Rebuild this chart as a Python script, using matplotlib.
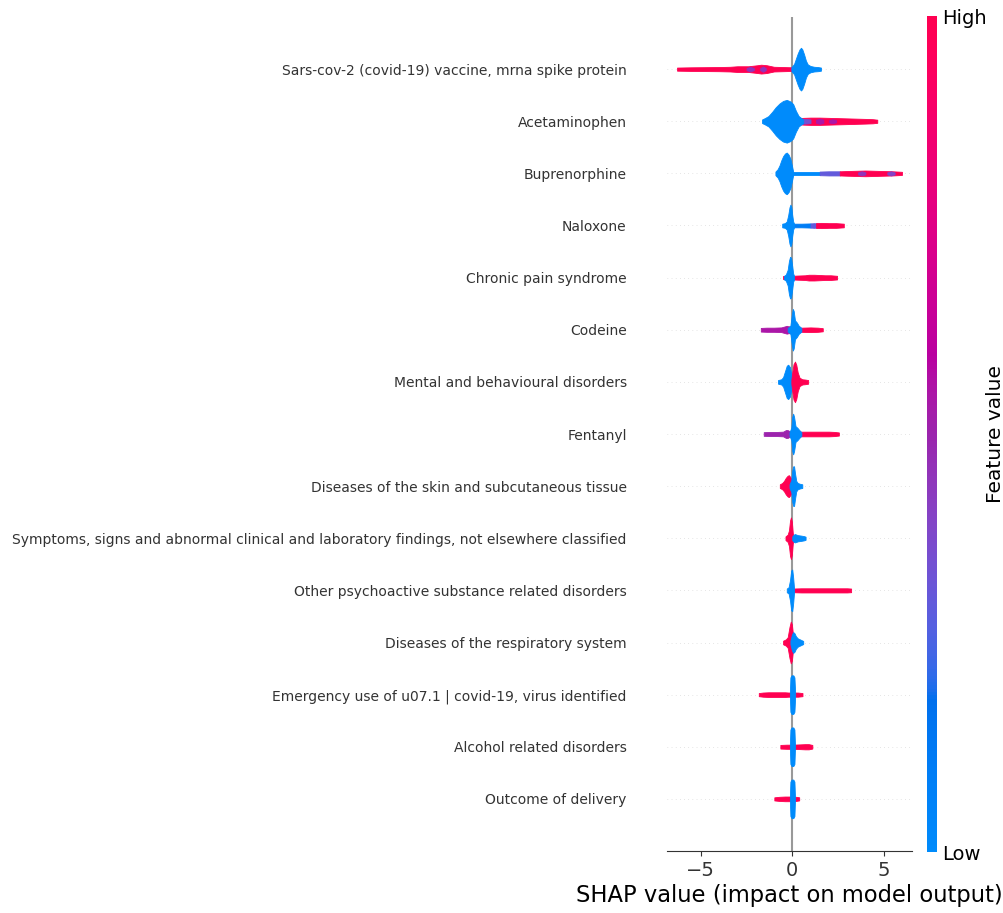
import numpy as np
import matplotlib
matplotlib.use("Agg")
import matplotlib.pyplot as plt
from matplotlib.colors import LinearSegmentedColormap
from matplotlib.cm import ScalarMappable

# feature names, top to bottom
features = [
    "Sars-cov-2 (covid-19) vaccine, mrna spike protein",
    "Acetaminophen",
    "Buprenorphine",
    "Naloxone",
    "Chronic pain syndrome",
    "Codeine",
    "Mental and behavioural disorders",
    "Fentanyl",
    "Diseases of the skin and subcutaneous tissue",
    "Symptoms, signs and abnormal clinical and laboratory findings, not elsewhere classified",
    "Other psychoactive substance related disorders",
    "Diseases of the respiratory system",
    "Emergency use of u07.1 | covid-19, virus identified",
    "Alcohol related disorders",
    "Outcome of delivery",
]

# beeswarm profile: for each blob the feature row,
# feature value (0 = low, 1 = high), SHAP values along it and half-thickness
blob_feature = []
blob_value = []
blob_x = []
blob_half = []


def blob(feat, val, xs, hs):
    blob_feature.append(feat)
    blob_value.append(val)
    blob_x.append(xs)
    blob_half.append(hs)


# Sars-cov-2 vaccine
blob(0, 1.0, [-6.3, -5.5, -4.0, -3.4, -3.0, -2.4, -1.9, -1.7, -1.4, -1.0, -0.5, 0.0],
     [0.03, 0.035, 0.04, 0.045, 0.055, 0.055, 0.075, 0.085, 0.075, 0.045, 0.04, 0.035])
blob(0, 0.45, [-2.5, -2.3, -2.1], [0.02, 0.045, 0.02])
blob(0, 0.45, [-1.75, -1.6, -1.45], [0.02, 0.05, 0.02])
blob(0, 0.0, [-0.05, 0.1, 0.2, 0.3, 0.4, 0.48, 0.55, 0.65, 0.75, 0.85, 1.0, 1.2, 1.4, 1.57],
     [0.035, 0.1, 0.2, 0.3, 0.38, 0.41, 0.38, 0.28, 0.16, 0.09, 0.06, 0.045, 0.04, 0.03])
# Acetaminophen
blob(1, 1.0, [0.3, 0.6, 1.0, 1.5, 2.0, 2.5, 3.0, 3.5, 4.0, 4.4, 4.65],
     [0.055, 0.065, 0.07, 0.07, 0.065, 0.06, 0.055, 0.05, 0.045, 0.04, 0.03])
blob(1, 0.35, [0.35, 0.7, 1.0], [0.035, 0.045, 0.035])
blob(1, 0.55, [1.3, 1.5, 1.7], [0.03, 0.05, 0.03])
blob(1, 0.55, [2.0, 2.2, 2.4], [0.02, 0.04, 0.02])
blob(1, 0.0, [-1.65, -1.5, -1.3, -1.1, -0.9, -0.7, -0.5, -0.3, -0.1, 0.05, 0.2, 0.35, 0.5, 0.6],
     [0.035, 0.06, 0.1, 0.18, 0.27, 0.34, 0.39, 0.41, 0.38, 0.33, 0.2, 0.1, 0.06, 0.04])
# Buprenorphine
blob(2, 0.0, [0.0, 0.5, 1.0, 1.5], [0.035, 0.035, 0.035, 0.035])
blob(2, 0.3, [1.5, 2.0, 2.6], [0.035, 0.04, 0.04])
blob(2, 1.0, [2.6, 3.0, 3.5, 4.0, 4.5, 5.0, 5.5, 6.0],
     [0.04, 0.045, 0.05, 0.055, 0.05, 0.045, 0.04, 0.03])
blob(2, 0.45, [3.6, 3.8, 4.0], [0.02, 0.04, 0.02])
blob(2, 0.4, [5.2, 5.4, 5.6], [0.02, 0.04, 0.02])
blob(2, 0.0, [-0.92, -0.8, -0.7, -0.6, -0.5, -0.4, -0.3, -0.2, -0.1, 0.0, 0.05],
     [0.035, 0.08, 0.15, 0.25, 0.33, 0.38, 0.40, 0.36, 0.28, 0.12, 0.035])
# Naloxone
blob(3, 0.1, [0.05, 0.5, 1.0], [0.035, 0.035, 0.04])
blob(3, 0.3, [1.0, 1.2, 1.35], [0.04, 0.045, 0.04])
blob(3, 1.0, [1.3, 1.6, 2.0, 2.4, 2.82], [0.045, 0.05, 0.045, 0.045, 0.035])
blob(3, 0.0, [-0.55, -0.4, -0.3, -0.22, -0.15, -0.1, -0.05, 0.0, 0.05, 0.1],
     [0.035, 0.045, 0.08, 0.2, 0.35, 0.40, 0.36, 0.2, 0.08, 0.035])
# Chronic pain syndrome
blob(4, 1.0, [-0.5, -0.3], [0.035, 0.035])
blob(4, 1.0, [0.0, 0.3, 0.7, 0.9, 1.2, 1.5, 1.8, 2.1, 2.45],
     [0.035, 0.04, 0.045, 0.055, 0.055, 0.05, 0.045, 0.045, 0.035])
blob(4, 0.0, [-0.45, -0.35, -0.25, -0.18, -0.12, -0.06, 0.0, 0.05, 0.1],
     [0.035, 0.06, 0.15, 0.32, 0.40, 0.38, 0.22, 0.08, 0.035])
# Codeine
blob(5, 0.55, [-1.72, -1.4, -1.0, -0.6, -0.4, -0.3, -0.2, -0.1, 0.0],
     [0.035, 0.04, 0.04, 0.045, 0.065, 0.075, 0.065, 0.045, 0.035])
blob(5, 1.0, [0.1, 0.5, 1.0, 1.4, 1.67], [0.04, 0.04, 0.045, 0.04, 0.03])
blob(5, 1.0, [-0.22, -0.15, -0.08], [0.035, 0.07, 0.035])
blob(5, 0.0, [-0.25, -0.1, -0.02, 0.03, 0.08, 0.15, 0.25, 0.35, 0.5],
     [0.035, 0.08, 0.3, 0.40, 0.36, 0.18, 0.14, 0.08, 0.035])
# Mental and behavioural disorders
blob(6, 0.0, [-0.78, -0.6, -0.5, -0.4, -0.3, -0.22, -0.12, -0.04, 0.02],
     [0.035, 0.05, 0.09, 0.2, 0.31, 0.33, 0.28, 0.12, 0.035])
blob(6, 1.0, [-0.05, 0.0, 0.07, 0.15, 0.22, 0.3, 0.4, 0.55, 0.7, 0.87],
     [0.035, 0.18, 0.34, 0.39, 0.33, 0.18, 0.08, 0.05, 0.045, 0.035])
# Fentanyl
blob(7, 0.5, [-1.56, -1.2, -0.8, -0.5, -0.35, -0.25, -0.1, 0.0],
     [0.035, 0.04, 0.04, 0.045, 0.075, 0.075, 0.045, 0.035])
blob(7, 1.0, [0.1, 0.5, 1.0, 1.5, 2.0, 2.3, 2.55], [0.04, 0.045, 0.045, 0.045, 0.045, 0.04, 0.03])
blob(7, 0.0, [-0.15, -0.05, 0.0, 0.05, 0.1, 0.18, 0.28, 0.4, 0.5],
     [0.035, 0.12, 0.33, 0.39, 0.33, 0.15, 0.12, 0.07, 0.035])
# Diseases of the skin
blob(8, 1.0, [-0.68, -0.55, -0.45, -0.35, -0.25, -0.18, -0.1, -0.02, 0.05],
     [0.035, 0.06, 0.1, 0.16, 0.2, 0.21, 0.17, 0.1, 0.035])
blob(8, 0.0, [-0.15, -0.05, 0.0, 0.05, 0.1, 0.15, 0.22, 0.3, 0.42, 0.55],
     [0.035, 0.12, 0.3, 0.38, 0.38, 0.25, 0.1, 0.06, 0.045, 0.035])
# Symptoms, signs ...
blob(9, 1.0, [-0.37, -0.25, -0.18, -0.12, -0.07, -0.02, 0.03, 0.07],
     [0.035, 0.07, 0.15, 0.34, 0.40, 0.32, 0.1, 0.035])
blob(9, 0.0, [0.0, 0.08, 0.15, 0.3, 0.5, 0.65, 0.73], [0.035, 0.07, 0.08, 0.06, 0.05, 0.04, 0.03])
# Other psychoactive substance
blob(10, 1.0, [0.0, 0.5, 1.0, 1.5, 2.0, 2.5, 3.0, 3.22],
     [0.035, 0.04, 0.04, 0.04, 0.04, 0.04, 0.04, 0.035])
blob(10, 0.0, [-0.3, -0.2, -0.12, -0.06, 0.0, 0.05, 0.1], [0.035, 0.06, 0.2, 0.38, 0.40, 0.25, 0.035])
# Respiratory system
blob(11, 1.0, [-0.5, -0.35, -0.25, -0.15, -0.08, -0.02, 0.05, 0.12],
     [0.035, 0.06, 0.1, 0.3, 0.40, 0.35, 0.12, 0.035])
blob(11, 0.0, [-0.1, -0.02, 0.05, 0.12, 0.2, 0.3, 0.45, 0.6],
     [0.035, 0.15, 0.2, 0.18, 0.12, 0.08, 0.055, 0.03])
# Emergency use of u07.1
blob(12, 1.0, [-1.83, -1.6, -1.3, -1.0, -0.7, -0.4, -0.2, 0.1, 0.3, 0.56],
     [0.03, 0.04, 0.045, 0.045, 0.045, 0.045, 0.04, 0.04, 0.04, 0.03])
blob(12, 0.0, [-0.13, -0.1, -0.04, 0.06, 0.12, 0.16], [0.035, 0.33, 0.37, 0.37, 0.33, 0.035])
# Alcohol related disorders
blob(13, 1.0, [-0.65, -0.3, 0.0, 0.4, 0.7, 0.9, 1.1], [0.035, 0.04, 0.04, 0.045, 0.05, 0.05, 0.035])
blob(13, 0.0, [-0.13, -0.1, -0.04, 0.06, 0.12, 0.15], [0.035, 0.33, 0.37, 0.37, 0.33, 0.035])
# Outcome of delivery
blob(14, 1.0, [-0.98, -0.7, -0.4, -0.1, 0.2, 0.38], [0.03, 0.04, 0.045, 0.045, 0.04, 0.03])
blob(14, 0.0, [-0.13, -0.1, -0.04, 0.06, 0.12, 0.15], [0.035, 0.33, 0.37, 0.37, 0.33, 0.035])


def lch_to_rgb(l, c, h):
    # CIE LCh -> Lab -> XYZ (D65) -> sRGB
    a, b = c * np.cos(h), c * np.sin(h)
    fy = (l + 16.0) / 116.0
    f = np.array([a / 500.0 + fy, fy, max(fy - b / 200.0, 0.0)])
    xyz = np.where(f > 0.2068966, f ** 3, (f - 16.0 / 116.0) / 7.787)
    xyz *= np.array([0.95047, 1.0, 1.08883])
    m = np.array([[0.412453, 0.357580, 0.180423],
                  [0.212671, 0.715160, 0.072169],
                  [0.019334, 0.119193, 0.950227]])
    rgb = np.linalg.inv(m) @ xyz
    rgb = np.where(rgb > 0.0031308, 1.055 * np.abs(rgb) ** (1 / 2.4) - 0.055, rgb * 12.92)
    return np.clip(rgb, 0, 1)


# shap's red_blue colormap
blue_lch = [54.0, 70.0, 4.6588]
red_lch = [54.0, 90.0, 0.35470565 + 2 * np.pi]
nsteps = 100
l_vals = list(np.linspace(blue_lch[0], 40.0, nsteps // 2)) + list(np.linspace(40.0, red_lch[0], nsteps // 2))
c_vals = np.linspace(blue_lch[1], red_lch[1], nsteps)
h_vals = np.linspace(blue_lch[2], red_lch[2], nsteps)
red_blue = LinearSegmentedColormap.from_list(
    "red_blue", [lch_to_rgb(l, c, h) for l, c, h in zip(l_vals, c_vals, h_vals)])

fig = plt.figure(figsize=(10.04, 9.13), dpi=100)
ax = fig.add_axes([667 / 1004, 62 / 913, 245 / 1004, 834 / 913])

n = len(features)
for i in range(n):
    ax.axhline(y=i, color="#cccccc", lw=0.5, dashes=(1, 5), zorder=-1)
ax.axvline(x=0, color="#999999", zorder=-1)

for feat, val, xs, hs in zip(blob_feature, blob_value, blob_x, blob_half):
    y = n - 1 - feat
    xs = np.array(xs)
    hs = np.array(hs)
    col = red_blue(val)
    ax.fill_between(xs, y - hs, y + hs, color=col, lw=0.6, edgecolor=col,
                    joinstyle="round", zorder=3)

ax.set_xlim(-6.85, 6.55)
ax.set_ylim(-1, n)
ax.set_yticks(range(n))
ax.set_yticklabels(features[::-1], fontsize=10, color="#333333")
ax.tick_params(axis="y", length=0, pad=29)
ax.set_xticks([-5, 0, 5])
ax.tick_params(axis="x", labelsize=14, labelcolor="#333333", color="#333333")
for s in ["left", "right", "top"]:
    ax.spines[s].set_visible(False)
ax.spines["bottom"].set_color("#333333")
ax.set_xlabel("SHAP value (impact on model output)", fontsize=16.3, labelpad=3)

cax = fig.add_axes([927 / 1004, 61 / 913, 10 / 1004, 836 / 913])
sm = ScalarMappable(cmap=red_blue)
sm.set_array([0, 1])
cb = fig.colorbar(sm, cax=cax, ticks=[0, 1])
cb.set_ticklabels(["Low", "High"])
cb.ax.tick_params(labelsize=14, length=0)
cb.set_label("Feature value", size=14.5, labelpad=0)
cb.outline.set_visible(False)

fig.savefig("out.png", dpi=100)
